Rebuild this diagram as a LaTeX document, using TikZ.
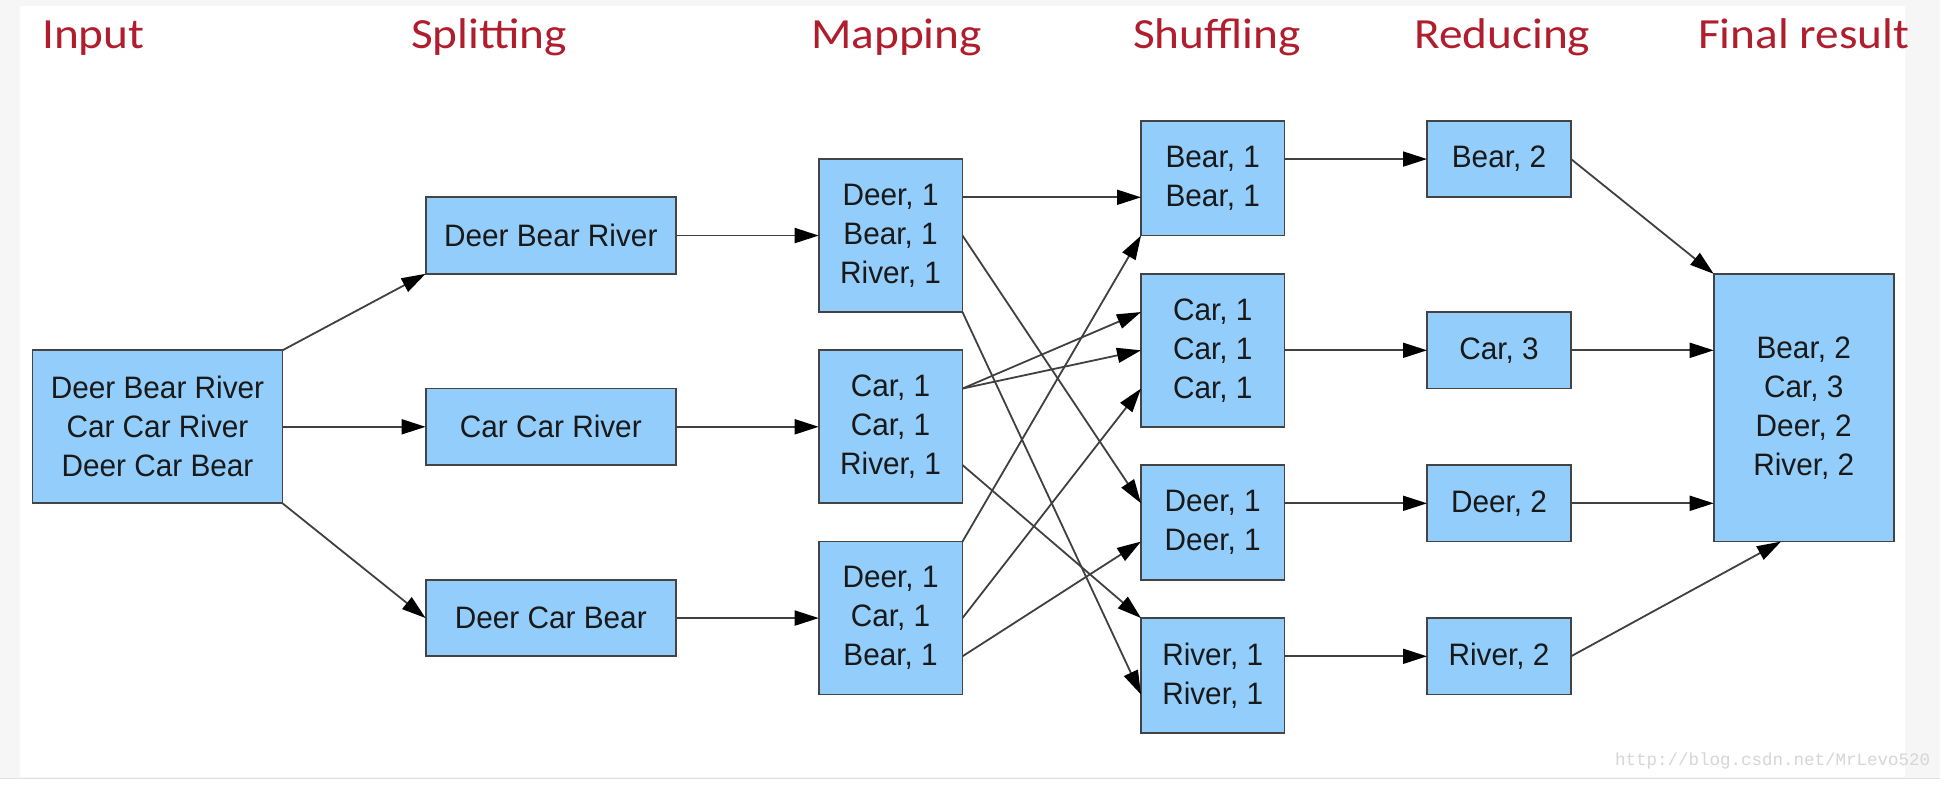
\documentclass[tikz,border=0pt]{standalone}
\usepackage{fontspec}
\usetikzlibrary{arrows.meta,calc}
\newfontfamily\boxfont[FakeStretch=0.96]{Liberation Sans}
\newfontfamily\headfont[FakeStretch=1.1]{Carlito}
\newfontfamily\wmfont{Liberation Mono}
\definecolor{boxfill}{HTML}{92CDFB}
\definecolor{boxline}{HTML}{444444}
\definecolor{headred}{HTML}{B01E2E}
\definecolor{edgegray}{HTML}{404040}
\definecolor{bggray}{HTML}{F6F6F6}
\tikzset{
  box/.style={draw=boxline, fill=boxfill, line width=1.8pt, rectangle,
    inner sep=0pt, outer sep=0pt, align=center, text=black!90,
    font=\boxfont\fontsize{31}{39}\selectfont},
  head/.style={anchor=base west, inner sep=0pt, text=headred,
    font=\headfont\fontsize{43}{50}\selectfont},
  flow/.style={draw=edgegray, line width=1.8pt,
    -{Triangle[length=24pt,width=15pt,color=black]}},
}
\begin{document}
\begin{tikzpicture}[x=1pt,y=-1pt]
\useasboundingbox (0,0) rectangle (1954,806);
% background
\fill[white] (0,0) rectangle (1954,806);
\fill[bggray] (0,0) rectangle (1940,778);
\fill[white] (20,6) rectangle (1905,777);
\draw[black!12, line width=1pt] (0,778) -- (1940,778);
% level coordinates
\foreach \k in {0,...,16} {\coordinate (L\k) at (0,{120.8+38.25*\k});}
% headings
\node[head] (hin)  at (42,48)   {Input};
\node[head] (hsp)  at (411,48)  {Splitting};
\node[head] (hmap) at (811,48)  {Mapping};
\node[head] (hsh)  at (1133,48) {Shuffling};
\node[head] (hred) at (1414,48) {Reducing};
\node[head] (hfin) at (1698,48) {Final result};
% input
\node[box, minimum width=250pt, minimum height=153pt] (in) at (157.5,426.8)
  {Deer Bear River\\Car Car River\\Deer Car Bear};
% splitting
\node[box, minimum width=250.4pt, minimum height=76.5pt] (s1) at (550.8,235.55) {Deer Bear River};
\node[box, minimum width=250.4pt, minimum height=76.5pt] (s2) at (550.8,426.8) {Car Car River};
\node[box, minimum width=250.4pt, minimum height=76.5pt] (s3) at (550.8,618.05) {Deer Car Bear};
% mapping
\node[box, minimum width=143.75pt, minimum height=153pt] (m1) at (890.6,235.55) {Deer, 1\\Bear, 1\\River, 1};
\node[box, minimum width=143.75pt, minimum height=153pt] (m2) at (890.6,426.8) {Car, 1\\Car, 1\\River, 1};
\node[box, minimum width=143.75pt, minimum height=153pt] (m3) at (890.6,618.05) {Deer, 1\\Car, 1\\Bear, 1};
% shuffling
\node[box, minimum width=143.4pt, minimum height=114.75pt] (sh1) at (1212.7,178.2) {Bear, 1\\Bear, 1};
\node[box, minimum width=143.4pt, minimum height=153pt] (sh2) at (1212.7,350.3) {Car, 1\\Car, 1\\Car, 1};
\node[box, minimum width=143.4pt, minimum height=114.75pt] (sh3) at (1212.7,522.4) {Deer, 1\\Deer, 1};
\node[box, minimum width=143.4pt, minimum height=114.75pt] (sh4) at (1212.7,675.4) {River, 1\\River, 1};
% reducing
\node[box, minimum width=144pt, minimum height=76.5pt] (r1) at (1499,159.05) {Bear, 2};
\node[box, minimum width=144pt, minimum height=76.5pt] (r2) at (1499,350.3) {Car, 3};
\node[box, minimum width=144pt, minimum height=76.5pt] (r3) at (1499,503.3) {Deer, 2};
\node[box, minimum width=144pt, minimum height=76.5pt] (r4) at (1499,656.3) {River, 2};
% final
\node[box, minimum width=180pt, minimum height=267.75pt] (f) at (1803.7,407.7)
  {Bear, 2\\Car, 3\\Deer, 2\\River, 2};
% watermark
\node[anchor=base west, inner sep=0pt, text=black!16,
  font=\wmfont\fontsize{17.5}{20}\selectfont] (wm) at (1615,765) {http://blog.csdn.net/MrLevo520};
% input -> splitting
\draw[flow] (in.north east) -- (s1.south west);
\draw[flow] (in.east) -- (s2.west);
\draw[flow] (in.south east) -- (s3.west);
% splitting -> mapping
\draw[flow] (s1.east) -- (m1.west);
\draw[flow] (s2.east) -- (m2.west);
\draw[flow] (s3.east) -- (m3.west);
% mapping -> shuffling
\draw[flow] (m1.east |- L2) -- (sh1.west |- L2);
\draw[flow] (m1.east |- L3) -- (sh3.west |- L10);
\draw[flow] (m1.south east) -- (sh4.west |- L15);
\draw[flow] (m2.east |- L7) -- (sh2.west |- L5);
\draw[flow] (m2.east |- L7) -- (sh2.west |- L6);
\draw[flow] (m2.east |- L9) -- (sh4.north west);
\draw[flow] (m3.north east) -- (sh1.south west);
\draw[flow] (m3.east |- L13) -- (sh2.west |- L7);
\draw[flow] (m3.east |- L14) -- (sh3.west |- L11);
% shuffling -> reducing
\draw[flow] (sh1.east |- L1) -- (r1.west);
\draw[flow] (sh2.east) -- (r2.west);
\draw[flow] (sh3.east |- L10) -- (r3.west);
\draw[flow] (sh4.east |- L14) -- (r4.west);
% reducing -> final
\draw[flow] (r1.east) -- (f.north west);
\draw[flow] (r2.east) -- (f.west |- L6);
\draw[flow] (r3.east) -- (f.west |- L10);
\draw[flow] (r4.east) -- ($(f.south west)+(67.3,0)$);
\end{tikzpicture}
\end{document}
